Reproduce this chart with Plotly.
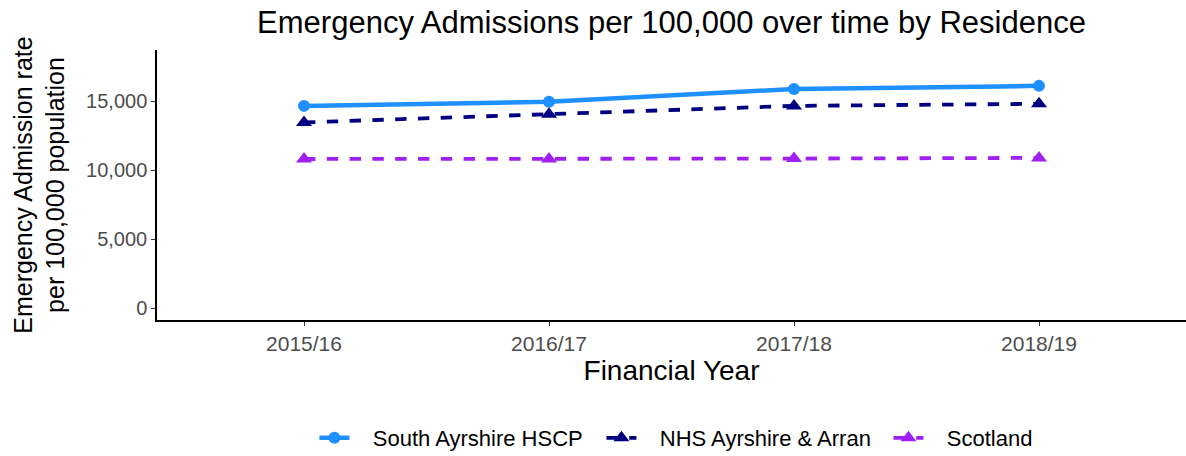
import plotly.graph_objects as go

years = ["2015/16", "2016/17", "2017/18", "2018/19"]
south_ayrshire = [14650, 14950, 15870, 16100]
nhs_ayrshire_arran = [13450, 14050, 14650, 14800]
scotland = [10800, 10800, 10830, 10880]

series = [
    ("South Ayrshire HSCP", south_ayrshire, "#1E90FF", "solid", "circle", 4.5, 12),
    ("NHS Ayrshire & Arran", nhs_ayrshire_arran, "#000080", "dash", "triangle-up", 3.8, 14),
    ("Scotland", scotland, "#A020F0", "dash", "triangle-up", 3.8, 14),
]

fig = go.Figure()
for name, vals, col, dash, sym, w, ms in series:
    fig.add_trace(go.Scatter(
        x=years, y=vals, name="\u00a0\u00a0\u00a0" + name, mode="lines+markers",
        line=dict(color=col, width=w, dash=dash),
        marker=dict(color=col, symbol=sym, size=ms),
    ))

font = "Liberation Sans, Arial, Helvetica, sans-serif"
fig.update_layout(
    width=1186, height=456,
    paper_bgcolor="white", plot_bgcolor="white",
    margin=dict(l=157, r=0, t=50, b=136, autoexpand=False),
    font=dict(family=font, color="black"),
    title=dict(text="Emergency Admissions per 100,000 over time by Residence",
               x=0.5, xref="paper", xanchor="center", y=0.952, yanchor="middle",
               font=dict(size=31, color="black")),
    xaxis=dict(
        title=dict(text="Financial Year", font=dict(size=28, color="black"), standoff=4),
        range=[-0.6, 3.6], showgrid=False, zeroline=False, automargin=False,
        showline=True, linecolor="black", linewidth=1.5,
        ticks="outside", ticklen=4, tickcolor="#333333",
        tickfont=dict(size=21, color="#4D4D4D"),
    ),
    yaxis=dict(
        title=dict(text="Emergency Admission rate<br>per 100,000 population",
                   font=dict(size=25, color="black"), standoff=14),
        range=[-870, 18700], showgrid=False, zeroline=False, automargin=False,
        showline=True, linecolor="black", linewidth=1.5,
        ticks="outside", ticklen=4, tickcolor="#333333",
        tickvals=[0, 5000, 10000, 15000], ticktext=["0", "5,000", "10,000", "15,000"],
        tickfont=dict(size=20, color="#4D4D4D"),
    ),
    legend=dict(orientation="h", x=0.153, xanchor="left", y=-0.437, yanchor="middle",
                font=dict(size=22, color="black"), entrywidth=242, entrywidthmode="pixels"),
)

fig.write_html("out.html", config={"displayModeBar": False},
               post_script="document.body.style.margin='0';")
